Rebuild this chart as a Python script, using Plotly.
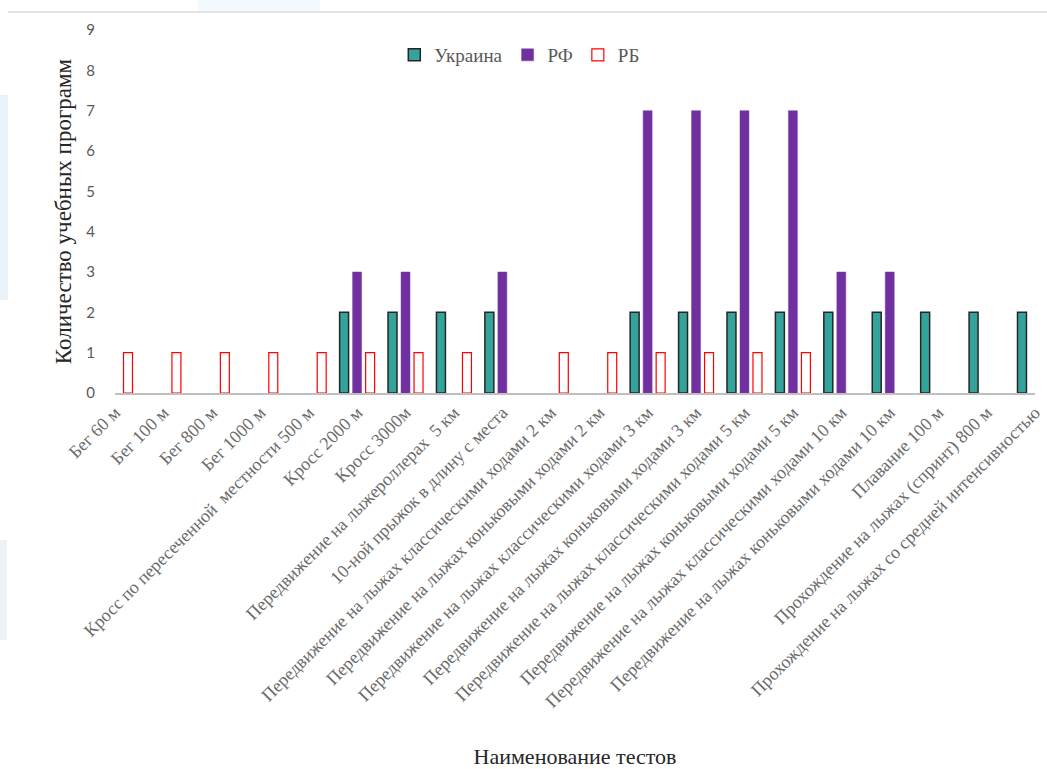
import plotly.graph_objects as go

# Test names (x categories)
tests = [
    "Бег 60 м",
    "Бег 100 м",
    "Бег 800 м",
    "Бег 1000 м",
    "Кросс по пересеченной  местности 500 м",
    "Кросс 2000 м",
    "Кросс 3000м",
    "Передвижение на лыжероллерах  5 км",
    "10-ной прыжок в длину с места",
    "Передвижение на лыжах классическими ходами 2 км",
    "Передвижение на лыжах коньковыми ходами 2 км",
    "Передвижение на лыжах классическими ходами 3 км",
    "Передвижение на лыжах коньковыми ходами 3 км",
    "Передвижение на лыжах классическими ходами 5 км",
    "Передвижение на лыжах коньковыми ходами 5 км",
    "Передвижение на лыжах классическими ходами 10 км",
    "Передвижение на лыжах коньковыми ходами 10 км",
    "Плавание 100 м",
    "Прохождение на лыжах (спринт) 800 м",
    "Прохождение на лыжах со средней интенсивностью",
]

# Number of curricula per country (None = test not present)
ukraine = [None, None, None, None, None, 2, 2, 2, 2, None, None, 2, 2, 2, 2, 2, 2, 2, 2, 2]
russia = [None, None, None, None, None, 3, 3, None, 3, None, None, 7, 7, 7, 7, 3, 3, None, None, None]
belarus = [1, 1, 1, 1, 1, 1, 1, 1, None, 1, 1, 1, 1, 1, 1, None, None, None, None, None]

y_ticks = [0, 1, 2, 3, 4, 5, 6, 7, 8, 9]

W, H = 1047, 769
L, R, T, B = 115, 1035, 30, 393  # plot area in pixels

def px_x(p):
    return (p - L) / (R - L)

def px_y(p):
    return (B - p) / (B - T)

idx = list(range(len(tests)))
serif = "Liberation Serif, Times New Roman, serif"
grey = "#595959"

fig = go.Figure()
fig.add_trace(go.Bar(
    name="Украина", x=idx, y=ukraine,
    marker=dict(color="#33a39c", line=dict(color="#262626", width=1.5)),
))
fig.add_trace(go.Bar(
    name="РФ", x=idx, y=russia,
    marker=dict(color="#7030a0", line=dict(color="#7a3aa8", width=0.5)),
))
fig.add_trace(go.Bar(
    name="РБ", x=idx, y=belarus,
    marker=dict(color="#ffffff", line=dict(color="#ff0000", width=1.2)),
))

# faint decorative page background pieces and the top border line
shapes = [
    dict(type="rect", xref="paper", yref="paper", layer="below",
         x0=px_x(0), x1=px_x(8), y0=px_y(300), y1=px_y(95),
         fillcolor="#e9f2f9", line=dict(width=0)),
    dict(type="rect", xref="paper", yref="paper", layer="below",
         x0=px_x(0), x1=px_x(7), y0=px_y(640), y1=px_y(540),
         fillcolor="#ebf3f9", line=dict(width=0)),
    dict(type="rect", xref="paper", yref="paper", layer="below",
         x0=px_x(198), x1=px_x(320), y0=px_y(11), y1=px_y(0),
         fillcolor="#f2fafd", line=dict(width=0)),
    dict(type="line", xref="paper", yref="paper",
         x0=px_x(8), x1=px_x(W), y0=px_y(12), y1=px_y(12),
         line=dict(color="#e3e3e3", width=2)),
]

fig.update_layout(
    width=W, height=H,
    margin=dict(l=L, r=W - R, t=T, b=H - B),
    paper_bgcolor="white", plot_bgcolor="white",
    barmode="group", bargap=0.194, bargroupgap=0.31,
    shapes=shapes,
    legend=dict(
        orientation="h", x=0.44, xanchor="center", y=px_y(55), yanchor="middle",
        font=dict(family=serif, size=19, color=grey),
        itemwidth=30, tracegroupgap=0, bgcolor="rgba(0,0,0,0)",
    ),
    xaxis=dict(
        range=[0, 19],
        tickmode="array", tickvals=idx, ticktext=tests, tickangle=-45,
        tickfont=dict(family=serif, size=18, color="#6a6a6a"),
        showgrid=False, zeroline=False,
        showline=True, linecolor="#bfbfbf", linewidth=2,
        ticks="", automargin=False,
        title=dict(text="Наименование тестов", standoff=40,
                   font=dict(family=serif, size=22, color="#262626")),
    ),
    yaxis=dict(
        range=[0, 9], tickvals=y_ticks,
        tickfont=dict(family="Lato, Open Sans, sans-serif", size=15, color=grey),
        showgrid=False, zeroline=False, showline=False,
        ticks="outside", ticklen=16, tickcolor="rgba(0,0,0,0)",
        automargin=False,
        title=dict(text="Количество учебных программ", standoff=8,
                   font=dict(family=serif, size=23, color="#262626")),
    ),
)

fig.write_html("out.html")
